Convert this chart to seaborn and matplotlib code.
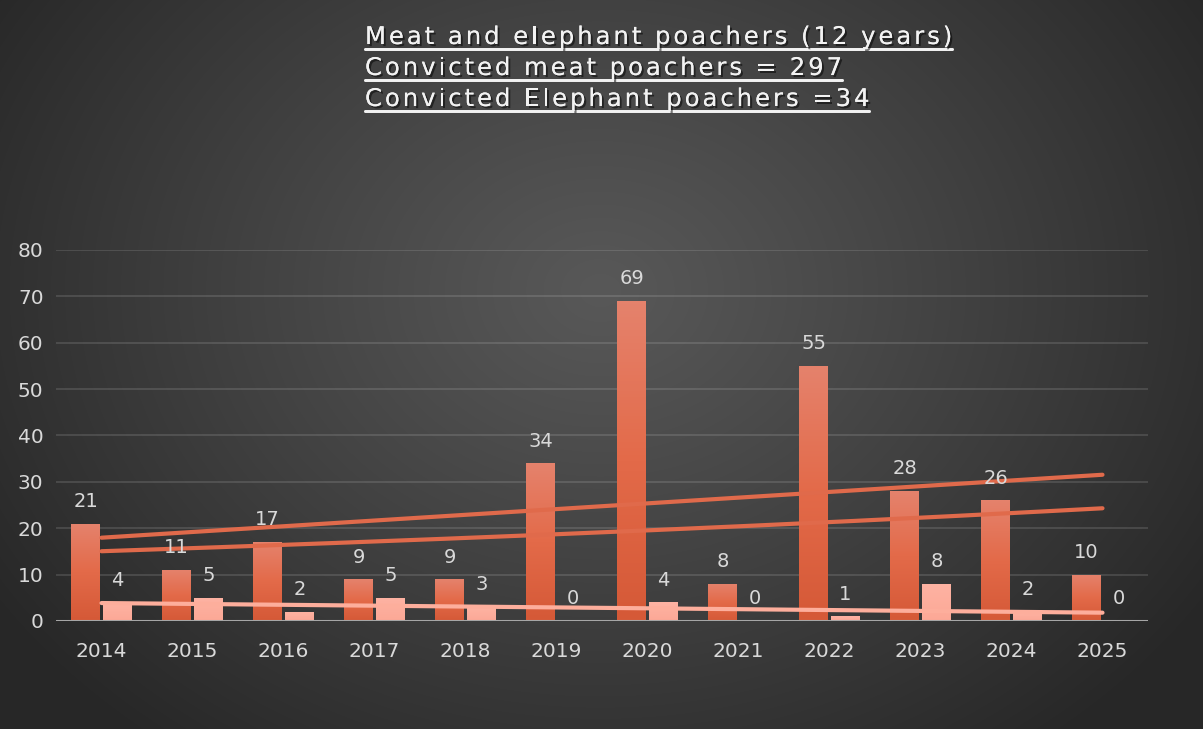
import numpy as np
import pandas as pd
import seaborn as sns
import matplotlib.pyplot as plt
from matplotlib.colors import LinearSegmentedColormap
from matplotlib.lines import Line2D
from matplotlib.font_manager import FontProperties, findfont, get_font
import matplotlib.patheffects as pe

years = ["2014", "2015", "2016", "2017", "2018", "2019", "2020", "2021", "2022", "2023", "2024", "2025"]
meat = [21, 11, 17, 9, 9, 34, 69, 8, 55, 28, 26, 10]
elephant = [4, 5, 2, 5, 3, 0, 4, 0, 1, 8, 2, 0]
title_lines = [
    "Meat and elephant poachers (12 years)",
    "Convicted meat poachers = 297",
    "Convicted Elephant poachers =34",
]

df = pd.DataFrame({
    "year": years * 2,
    "count": meat + elephant,
    "series": ["Meat"] * len(years) + ["Elephant"] * len(years),
})

sns.set_theme(style="dark")
plt.rcParams["font.family"] = ["DejaVu Sans"]

W, H = 1203, 729
fig = plt.figure(figsize=(W / 100, H / 100), dpi=100)

# radial background
bg = fig.add_axes([0, 0, 1, 1], zorder=0)
yy, xx = np.mgrid[0:H, 0:W]
r = np.sqrt((xx - 600) ** 2 + ((yy - 290) * 1.25) ** 2)
r = np.clip(r / 720, 0, 1)
shade = 0.345 - (0.345 - 0.155) * r ** 1.1
bg.imshow(np.dstack([shade] * 3), aspect="auto", extent=[0, W, H, 0])
bg.axis("off")

ax = fig.add_axes([56 / W, 108 / H, (1148 - 56) / W, (621 - 250) / H], zorder=1)
ax.set_facecolor("none")

sns.barplot(data=df, x="year", y="count", hue="series",
            palette={"Meat": "#e2694a", "Elephant": "#fdae9c"},
            width=0.70, gap=0.1, saturation=1, linewidth=0, edgecolor="none",
            legend=False, ax=ax, zorder=3)

# gradient fill on bars
meat_cmap = LinearSegmentedColormap.from_list("m", ["#d55937", "#e36a49", "#e5826c"])
ele_cmap = LinearSegmentedColormap.from_list("e", ["#fca896", "#feb3a3"])
grad = np.linspace(0, 1, 100).reshape(-1, 1)
for p in list(ax.patches):
    x0, y0, w, h = p.get_x(), p.get_y(), p.get_width(), p.get_height()
    if h <= 0:
        continue
    cm = meat_cmap if p.get_facecolor()[1] < 0.5 else ele_cmap
    im = ax.imshow(grad, cmap=cm, origin="lower", aspect="auto",
                   extent=[x0, x0 + w, y0, y0 + h], zorder=3.5)
    im.set_clip_path(p)
ax.set_xlim(-0.5, len(years) - 0.5)
ax.set_ylim(0, 80)
ax.set_aspect("auto")

# trend lines
xi = np.arange(len(years))
xs = np.linspace(0, len(years) - 1, 200)
m_lin = np.polyfit(xi, meat, 1)
m_exp = np.polyfit(xi, np.log(meat), 1)
e_lin = np.polyfit(xi, elephant, 1)
ax.plot(xs, np.polyval(m_lin, xs), color="#e06a4b", lw=3, zorder=4, solid_capstyle="round")
ax.plot(xs, np.exp(np.polyval(m_exp, xs)), color="#e06a4b", lw=3, zorder=4, solid_capstyle="round")
ax.plot(xs, np.polyval(e_lin, xs), color="#fdae9c", lw=3, zorder=4, solid_capstyle="round")

# data labels
off = 0.175
for i in range(len(years)):
    for xv, v in ((i - off, meat[i]), (i + off, elephant[i])):
        ax.annotate(str(v), (xv, v), xytext=(0, 12), textcoords="offset points",
                    ha="center", va="baseline", fontsize=14, color="#d9d9d9", zorder=5)

ax.yaxis.grid(True, color="#ffffff", alpha=0.12, lw=1.5, zorder=0)
ax.xaxis.grid(False)
ax.axhline(0, color="#a6a6a6", lw=2.2, zorder=4.5)
ax.set_yticks(range(0, 81, 10))
ax.tick_params(axis="both", colors="#d9d9d9", labelsize=14.5, length=0)
ax.tick_params(axis="y", pad=9)
ax.tick_params(axis="x", pad=15)
ax.set_xlabel("")
ax.set_ylabel("")
for s in ax.spines.values():
    s.set_visible(False)

# title block: letter-spaced text with underlines
shadow = [pe.withSimplePatchShadow(offset=(1.5, -1.5), shadow_rgbFace="#000000", alpha=0.5), pe.Normal()]
tsize = 17.5
spacing = 3.0
prop = FontProperties(family="DejaVu Sans", size=tsize)
font = get_font(findfont(prop))
font.set_size(tsize, 100)
for k, line in enumerate(title_lines):
    xpx = 365.0
    ybase = 1 - (44 + 31 * k) / H
    for ch in line:
        fig.text(xpx / W, ybase, ch, fontproperties=prop, color="#f2f2f2",
                 ha="left", va="baseline", path_effects=shadow)
        g = font.load_char(ord(ch))
        xpx += g.linearHoriAdvance / 65536 + spacing
    xend = xpx - spacing
    yl = 1 - (48.5 + 31 * k) / H
    fig.add_artist(Line2D([365 / W, xend / W], [yl, yl], color="#f2f2f2", lw=2,
                          path_effects=shadow))

fig.savefig("out.png", dpi=100)
